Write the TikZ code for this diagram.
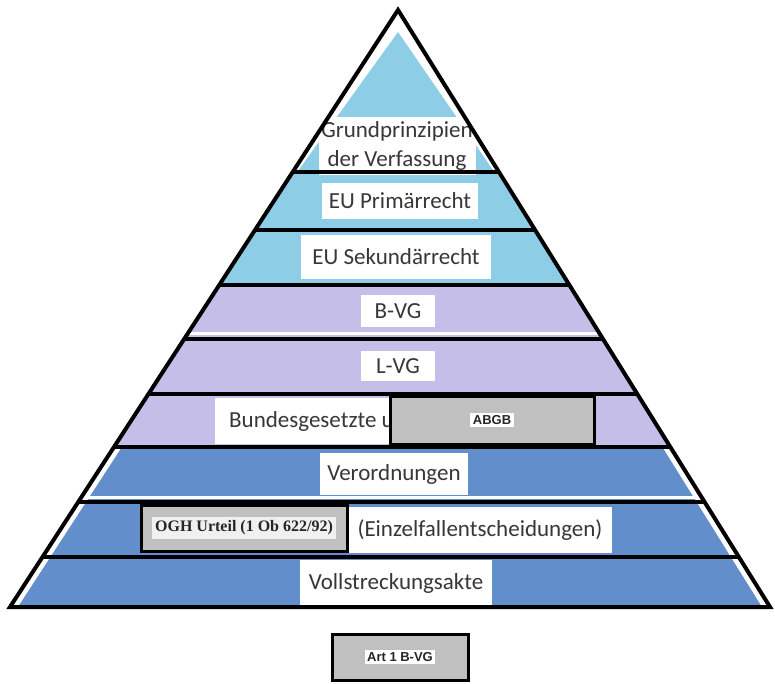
\documentclass[tikz,border=0pt]{standalone}
\usepackage{fontspec}
\setmainfont{Carlito}
\newfontfamily\serifb{Liberation Serif}
\newfontfamily\sansb{Liberation Sans}
\usetikzlibrary{calc}
\definecolor{lblue}{RGB}{142,205,230}
\definecolor{lav}{RGB}{196,190,232}
\definecolor{dblue}{RGB}{98,142,204}
\definecolor{boxgray}{RGB}{192,192,192}
\definecolor{txt}{RGB}{55,55,55}
\newcommand\XL[1]{398-0.65*(#1-10)}
\newcommand\XR[1]{398+0.623*(#1-10)}
\newcommand\pyrband[4]{\fill[#3] ({\XL{#1}+#4},#1) -- ({\XR{#1}-#4},#1) -- ({\XR{#2}-#4},#2) -- ({\XL{#2}+#4},#2) -- cycle;}
\newcommand\pyrline[1]{\draw[bandline] ({\XL{#1}},#1) -- ({\XR{#1}},#1);}
\begin{document}
\begin{tikzpicture}[x=1pt,y=-1pt,
  bandline/.style={line width=4pt,black},
  lbl/.style={fill=white,text=txt,inner sep=0pt,font=\fontsize{23}{29}\selectfont,align=center},
  graybox/.style={fill=boxgray,draw=black,line width=3pt,inner sep=0pt},
  boxlbl/.style={fill=white,text=black!85,inner sep=2.5pt,font=\sansb\bfseries\fontsize{13}{15}\selectfont}]
\useasboundingbox (0,0) rectangle (775,684);
\fill[white] (0,0) rectangle (775,684);
% band fills
\fill[lblue] (398,32) -- ({\XL{172}+6},170) -- ({\XR{172}-6},170) -- cycle;
\pyrband{172}{230}{lblue}{2}
\pyrband{230}{285}{lblue}{2}
\pyrband{285}{339}{lav}{1}
\pyrband{339}{394}{lav}{1}
\pyrband{394}{447}{lav}{1}
\pyrband{447}{502}{dblue}{8}
\pyrband{502}{557}{dblue}{8}
\pyrband{557}{607}{dblue}{8}
\fill[white] ({\XL{498}},496) rectangle ({\XR{498}},499);
\fill[white] ({\XL{334}},332) rectangle ({\XR{334}},335);
% labels
\node[lbl,minimum width=157,minimum height=58] (grund) at (397,146) {Grundprinzipien\\der Verfassung};
\node[lbl,minimum width=156,minimum height=36] (eup) at (400,201) {EU Primärrecht};
\node[lbl,minimum width=190,minimum height=44] (eus) at (396,257) {EU Sekundärrecht};
\node[lbl,minimum width=74,minimum height=32] (bvg) at (398,311) {B-VG};
\node[lbl,minimum width=74,minimum height=30] (lvg) at (398,366) {L-VG};
\node[lbl,anchor=west,inner xsep=14,minimum height=46] (bund) at (215,421) {Bundesgesetzte u};
\node[lbl,minimum width=148,minimum height=42] (verord) at (394,474) {Verordnungen};
\node[lbl,minimum width=264,minimum height=46] (einzel) at (480,530) {(Einzelfallentscheidungen)};
\node[lbl,minimum width=192,minimum height=46] (voll) at (396,583) {Vollstreckungsakte};
% band lines
\pyrline{172}
\pyrline{230}
\pyrline{285}
\pyrline{339}
\pyrline{394}
\pyrline{447}
\pyrline{502}
\pyrline{557}
% gray boxes
\node[graybox,minimum width=204,minimum height=48] (abgbbox) at (492,420) {};
\node[boxlbl] (abgb) at (abgbbox.center) {ABGB};
\node[graybox,minimum width=206,minimum height=46] (oghbox) at (244,528) {};
\node[fill=black!6,text=black!85,inner xsep=3pt,inner ysep=4pt,font=\serifb\bfseries\fontsize{16}{18}\selectfont] (ogh) at (oghbox.center) {OGH Urteil (1 Ob 622/92)};
\node[graybox,minimum width=136,minimum height=46] (artbox) at (400,657) {};
\node[boxlbl] (art) at (artbox.center) {Art 1 B-VG};
% outline
\coordinate (A) at (398,10);
\coordinate (BL) at (10,607);
\coordinate (BR) at (770,607);
\draw[line width=4pt,line join=miter] (A) -- (BL) -- (BR) -- cycle;
\end{tikzpicture}
\end{document}
